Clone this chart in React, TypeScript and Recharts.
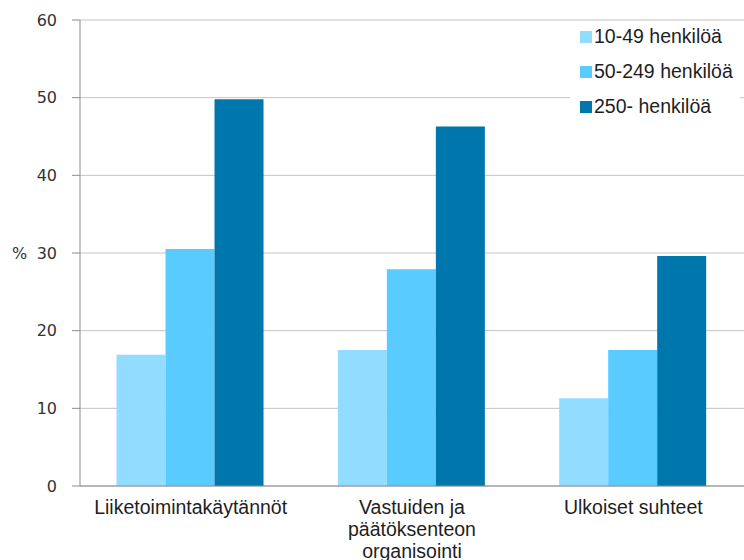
import { BarChart, Bar, XAxis, YAxis, CartesianGrid, Legend } from 'recharts';

const categoryLines = [
  ['Liiketoimintakäytännöt'],
  ['Vastuiden ja', 'päätöksenteon', 'organisointi'],
  ['Ulkoiset suhteet'],
];
const small = [16.9, 17.5, 11.3];
const medium = [30.5, 27.9, 17.5];
const large = [49.8, 46.3, 29.6];
const seriesNames = ['10-49 henkilöä', '50-249 henkilöä', '250- henkilöä'];
const seriesColors = ['#91dcff', '#59cbff', '#0077ac'];
const yTicks = [0, 10, 20, 30, 40, 50, 60];
const boundaryTicks = [0, 1, 2, 3];

const data = categoryLines.map((lines, i) => ({
  name: lines.join(' '),
  small: small[i],
  medium: medium[i],
  large: large[i],
}));

const LABEL_FONT = '"Liberation Sans", Arial, sans-serif';
const AXIS_FONT = '"DejaVu Sans", Verdana, sans-serif';

// eslint-disable-next-line @typescript-eslint/no-explicit-any
const CategoryTick = ({ x, y, payload }: any) => {
  const lines = categoryLines[payload.index] ?? [String(payload.value)];
  return (
    <text x={x} y={y} textAnchor="middle" fontFamily={LABEL_FONT} fontSize={19.5} fill="#1e1e1e">
      {lines.map((l, i) => (
        <tspan key={i} x={x} dy={i === 0 ? '0.71em' : 22}>{l}</tspan>
      ))}
    </text>
  );
};

// eslint-disable-next-line @typescript-eslint/no-explicit-any
const LegendBox = ({ payload }: any) => {
  // keep series order instead of the alphabetical one
  // eslint-disable-next-line @typescript-eslint/no-explicit-any
  const items = [...(payload ?? [])].sort((a: any, b: any) => seriesNames.indexOf(a.value) - seriesNames.indexOf(b.value));
  return (
    <div style={{ background: '#fff', width: 170, height: 100 }}>
      <div style={{ position: 'relative', top: -2, paddingLeft: 10 }}>
        {/* eslint-disable-next-line @typescript-eslint/no-explicit-any */}
        {items.map((p: any) => (
          <div key={p.value} style={{ display: 'flex', alignItems: 'center', height: 35 }}>
            <span style={{ width: 12, height: 12, background: p.color, marginRight: 2, flex: 'none' }} />
            <span style={{ fontFamily: LABEL_FONT, fontSize: 19.5, color: '#1e1e1e', whiteSpace: 'nowrap' }}>
              {p.value}
            </span>
          </div>
        ))}
      </div>
    </div>
  );
};

export default function App() {
  return (
    <div style={{ position: 'absolute', left: 0, top: 0, background: '#fff' }}>
      <BarChart
        width={744}
        height={560}
        data={data}
        margin={{ top: 20, right: 0, left: 0, bottom: 0 }}
        barGap={0}
        barCategoryGap="16.5%"
      >
        <CartesianGrid horizontal vertical={false} stroke="#c3c3c3" xAxisId={1} />
        {/* thin axis that only carries the baseline and the ticks between categories */}
        <XAxis
          xAxisId={0}
          type="number"
          domain={[0, 3]}
          ticks={boundaryTicks}
          allowDataOverflow
          height={1}
          tick={false}
          tickLine={{ stroke: '#8c8c8c' }}
          tickSize={6}
          axisLine={{ stroke: '#8c8c8c' }}
        />
        <XAxis
          xAxisId={1}
          dataKey="name"
          height={73}
          tick={<CategoryTick />}
          tickLine={false}
          tickSize={6}
          tickMargin={7}
          axisLine={false}
          interval={0}
        />
        <YAxis
          width={80}
          domain={[0, 60]}
          ticks={yTicks}
          tickSize={8}
          tickMargin={15}
          tickLine={{ stroke: '#8c8c8c' }}
          axisLine={{ stroke: '#8c8c8c' }}
          tick={{ fontFamily: AXIS_FONT, fontSize: 16, fill: '#333' }}
          label={{ value: '%', position: 'insideLeft', offset: 12, fontFamily: AXIS_FONT, fontSize: 16, fill: '#333' }}
        />
        <Legend
          layout="vertical"
          align="center"
          verticalAlign="middle"
          content={<LegendBox />}
          wrapperStyle={{ position: 'absolute', left: 570, top: 21, width: 170, height: 100 }}
        />
        <Bar xAxisId={1} dataKey="small" name={seriesNames[0]} fill={seriesColors[0]} isAnimationActive={false} />
        <Bar xAxisId={1} dataKey="medium" name={seriesNames[1]} fill={seriesColors[1]} isAnimationActive={false} />
        <Bar xAxisId={1} dataKey="large" name={seriesNames[2]} fill={seriesColors[2]} isAnimationActive={false} />
      </BarChart>
    </div>
  );
}
